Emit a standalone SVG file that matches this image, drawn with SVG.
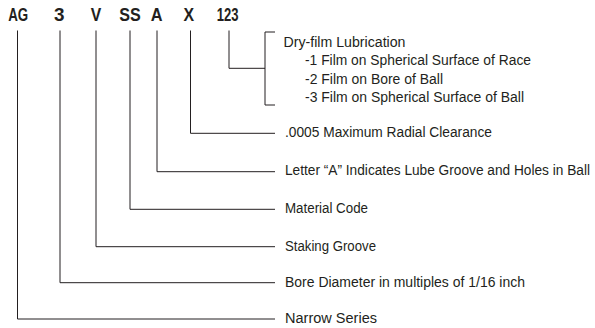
<svg xmlns="http://www.w3.org/2000/svg" width="595" height="328" viewBox="0 0 595 328">
<style>
.code{font-family:"Liberation Sans",Arial,sans-serif;font-weight:bold;font-size:18.5px;fill:#231f20}
.lbl{font-family:"Liberation Sans",Arial,sans-serif;font-size:15.5px;fill:#231f20}
.ln{fill:none;stroke:#231f20;stroke-width:1}
</style>
<rect width="595" height="328" fill="#fff"/>
<g id="code">
<g id="code-AG"><text class="code" x="8.2" y="20.7" textLength="20" lengthAdjust="spacingAndGlyphs">AG</text></g>
<g id="code-3"><text class="code" x="54" y="20.7" textLength="10.5" lengthAdjust="spacingAndGlyphs">3</text></g>
<g id="code-V"><text class="code" x="90.7" y="20.7" textLength="10.5" lengthAdjust="spacingAndGlyphs">V</text></g>
<g id="code-SS"><text class="code" x="119.3" y="20.7" textLength="21.5" lengthAdjust="spacingAndGlyphs">SS</text></g>
<g id="code-A"><text class="code" x="150.8" y="20.7" textLength="11.8" lengthAdjust="spacingAndGlyphs">A</text></g>
<g id="code-X"><text class="code" x="183.5" y="20.7" textLength="10.6" lengthAdjust="spacingAndGlyphs">X</text></g>
<g id="code-123"><text class="code" x="216.7" y="20.7" textLength="21.8" lengthAdjust="spacingAndGlyphs">123</text></g>
</g>
<g id="connectors" class="ln">
<polyline points="17.5,30.5 17.5,319 275,319"/>
<polyline points="60,30.5 60,282.7 275,282.7"/>
<polyline points="96,30.5 96,246.7 275,246.7"/>
<polyline points="130,30.5 130,209.3 275,209.3"/>
<polyline points="157,30.5 157,171.7 275,171.7"/>
<polyline points="190.5,30.5 190.5,133.3 275,133.3"/>
<polyline points="229,30.5 229,68.3 265,68.3"/>
<polyline points="275,32 265,32 265,105 275,105"/>
</g>
<g id="label-lube">
<text class="lbl" x="283.5" y="47.3" textLength="122" lengthAdjust="spacingAndGlyphs">Dry-film Lubrication</text>
<text class="lbl" x="305" y="65.3" textLength="226" lengthAdjust="spacingAndGlyphs">-1 Film on Spherical Surface of Race</text>
<text class="lbl" x="305" y="83.8" textLength="138" lengthAdjust="spacingAndGlyphs">-2 Film on Bore of Ball</text>
<text class="lbl" x="305" y="101.7" textLength="219" lengthAdjust="spacingAndGlyphs">-3 Film on Spherical Surface of Ball</text>
</g>
<g id="label-X"><text class="lbl" x="285" y="137.3" textLength="207" lengthAdjust="spacingAndGlyphs">.0005 Maximum Radial Clearance</text></g>
<g id="label-A"><text class="lbl" transform="scale(0.85,1)" x="335.3" y="175.5" textLength="358.8" lengthAdjust="spacingAndGlyphs">Letter “A” Indicates Lube Groove and Holes in Ball</text></g>
<g id="label-SS"><text class="lbl" x="285" y="213" textLength="83" lengthAdjust="spacingAndGlyphs">Material Code</text></g>
<g id="label-V"><text class="lbl" x="285" y="250.5" textLength="91" lengthAdjust="spacingAndGlyphs">Staking Groove</text></g>
<g id="label-3"><text class="lbl" x="285" y="286.7" textLength="240" lengthAdjust="spacingAndGlyphs">Bore Diameter in multiples of 1/16 inch</text></g>
<g id="label-AG"><text class="lbl" x="285" y="322.8" textLength="92" lengthAdjust="spacingAndGlyphs">Narrow Series</text></g>
</svg>
